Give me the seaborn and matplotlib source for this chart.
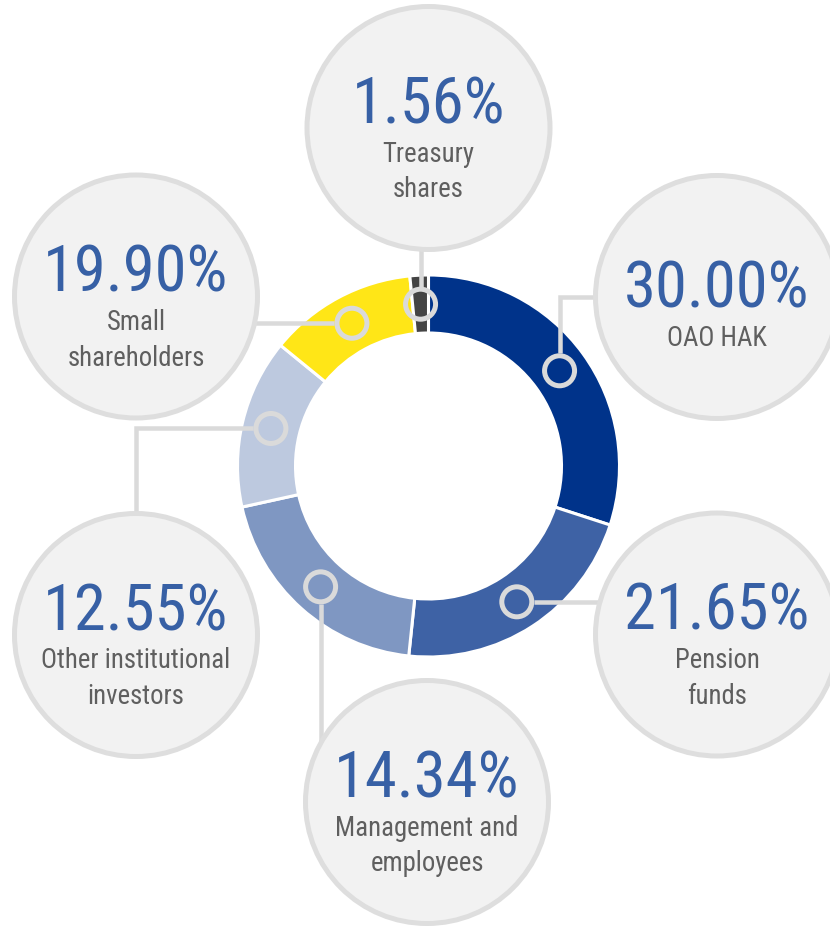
import numpy as np
import pandas as pd
import matplotlib
matplotlib.use("Agg")
import matplotlib.pyplot as plt
from matplotlib.patches import Circle
from matplotlib import font_manager as fm
import seaborn as sns

# ---------------- data ----------------
# ring slices, clockwise from 12 o'clock (as drawn in the reference)
slice_values = [30.00, 21.65, 19.90, 14.34, 12.55, 1.56]
slice_colors = ["#00338a", "#3e62a5", "#7f97c2", "#bdc9df", "#ffe617", "#444444"]

# bubble labels, one per slice (same order)
label_pcts = [30.00, 21.65, 14.34, 12.55, 19.90, 1.56]
label_lines = [["OAO HAK"], ["Pension", "funds"], ["Management and", "employees"],
               ["Other institutional", "investors"], ["Small", "shareholders"],
               ["Treasury", "shares"]]

# ---------------- layout (pixels, y down) ----------------
W, H = 830, 926
CX, CY = 428.5, 466
R_OUT, R_IN = 191, 133
R_MID = (R_OUT + R_IN) / 2
BUBBLE_R = 121.5
bubbles = [(717, 297), (717, 634.5), (427, 802), (136, 635), (136, 296.5), (428.5, 128)]
routes = ["up_right", "right", "down", "left_down", "left", "up"]

# ---------------- fonts ----------------
sns.set_theme(style="white")
entries = fm.fontManager.ttflist
names = {f.name for f in entries}
FONT, STRETCH = "DejaVu Sans", "normal"
if "Roboto Condensed" in names:
    FONT = "Roboto Condensed"
elif any(f.name == "Roboto" and str(f.stretch) in ("condensed", "semi-condensed", "75", "87") for f in entries):
    FONT, STRETCH = "Roboto", "condensed"
elif "Liberation Sans Narrow" in names:
    FONT = "Liberation Sans Narrow"
elif "Roboto" in names:
    FONT = "Roboto"
plt.rcParams["font.family"] = [FONT, "DejaVu Sans"]

PCT_COLOR = "#3760a5"
LBL_COLOR = "#5f5f5f"
LINE_COLOR = "#dadada"
PX = 72 / 100  # points per pixel at dpi 100

fig = plt.figure(figsize=(W / 100, H / 100), dpi=100)
ax = fig.add_axes([0, 0, 1, 1])

# donut
ax.pie(slice_values, colors=slice_colors, startangle=-90, counterclock=True,
       radius=R_OUT, center=(CX, CY),
       wedgeprops=dict(width=R_OUT - R_IN, edgecolor="white", linewidth=2.2),
       frame=False)

# marker positions at slice mid angles
vals = np.array(slice_values)
cum = np.cumsum(vals)
mid = (cum - vals / 2) / vals.sum() * 2 * np.pi
mx = CX + R_MID * np.sin(mid)
my = CY - R_MID * np.cos(mid)
markers = pd.DataFrame({"x": mx, "y": my, "cat": [l[0] for l in label_lines]})

MARK_R = 15  # px (stroke centre radius)
MARK_OUT = MARK_R + 2.5

# connector lines
for (x0, y0), (bx, by), rt in zip(zip(mx, my), bubbles, routes):
    if rt == "up":
        xs, ys = [x0, x0], [y0 - MARK_OUT, by]
    elif rt == "down":
        xs, ys = [x0, x0], [y0 + MARK_OUT, by]
    elif rt == "right":
        xs, ys = [x0 + MARK_OUT, bx], [y0, y0]
    elif rt == "left":
        xs, ys = [x0 - MARK_OUT, bx], [y0, y0]
    elif rt == "up_right":
        xs, ys = [x0, x0, bx], [y0 - MARK_OUT, by, by]
    elif rt == "left_down":
        xs, ys = [x0 - MARK_OUT, bx, bx], [y0, y0, by]
    ax.plot(xs, ys, color=LINE_COLOR, lw=4.5 * PX, solid_capstyle="butt",
            solid_joinstyle="miter", zorder=3)

# ring markers
sns.scatterplot(data=markers, x="x", y="y", ax=ax, s=(2 * MARK_R * PX) ** 2,
                facecolor="none", edgecolor=LINE_COLOR, linewidth=5 * PX,
                legend=False, zorder=4)

# bubbles and text
for (bx, by), pct, lines in zip(bubbles, label_pcts, label_lines):
    ax.add_patch(Circle((bx, by), BUBBLE_R, facecolor="#f2f2f2", edgecolor="#dedede",
                        linewidth=5 * PX, zorder=5))
    if len(lines) == 1:
        base = by + 11
    else:
        base = by - 4.5
    ax.text(bx, base, f"{pct:.2f}%", ha="center", va="baseline", fontsize=46.5,
            color=PCT_COLOR, fontstretch=STRETCH, zorder=6)
    for i, ln in enumerate(lines):
        ax.text(bx, base + 38 + 35.5 * i, ln, ha="center", va="baseline", fontsize=19.3,
                color=LBL_COLOR, fontstretch=STRETCH, zorder=6)

ax.set_xlim(0, W)
ax.set_ylim(H, 0)
ax.set_aspect("equal")
ax.axis("off")
fig.savefig("out.png", dpi=100, facecolor="white")
